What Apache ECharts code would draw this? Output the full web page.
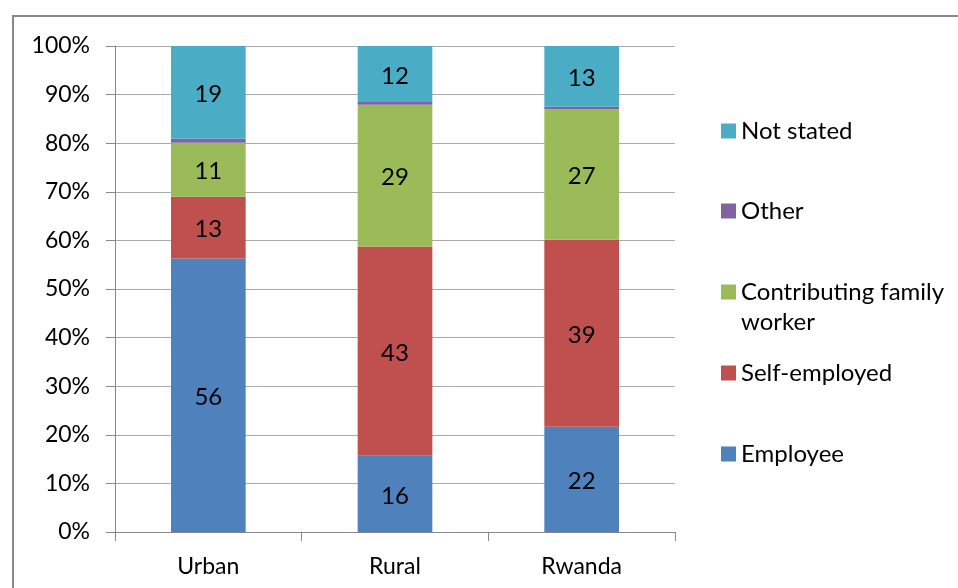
<!DOCTYPE html>
<html>
<head>
<meta charset="utf-8">
<script src="https://cdn.jsdelivr.net/npm/echarts@6/dist/echarts.min.js"></script>
<style>
  html, body { margin: 0; padding: 0; background: #fff; }
  #chart { width: 958px; height: 588px; }
</style>
</head>
<body>
<div id="chart"></div>
<script>
// categories and raw values (percent)
var categories = ['Urban', 'Rural', 'Rwanda']
var employee = [56.3, 15.8, 21.8]
var selfEmployed = [12.7, 43.4, 38.7]
var familyWorker = [11.1, 29.4, 27.0]
var other = [0.8, 0.6, 0.5]
var notStated = [19.1, 11.6, 12.6]
var yTicks = [0, 10, 20, 30, 40, 50, 60, 70, 80, 90, 100]

var seriesNames = ['Employee', 'Self-employed', 'Contributing family worker', 'Other', 'Not stated']
var seriesData = [employee, selfEmployed, familyWorker, other, notStated]
var colors = ['#4F81BD', '#C0504D', '#9BBB59', '#8064A2', '#4BACC6']

// 100% stacked: share of each category total
var totals = categories.map(function(c, i) {
  return seriesData.reduce(function(s, arr) { return s + arr[i] }, 0)
})

var FONT = 'Lato'

var chart = echarts.init(document.getElementById('chart'))

var series = seriesData.map(function(arr, k) {
  return {
    name: seriesNames[k],
    type: 'bar',
    stack: 'total',
    barWidth: '40%',
    itemStyle: { color: colors[k] },
    label: {
      show: seriesNames[k] !== 'Other',
      position: 'inside',
      offset: [0, 2],
      color: '#000',
      fontFamily: FONT,
      fontSize: 24,
      formatter: function(p) { return Math.round(arr[p.dataIndex]) }
    },
    data: arr.map(function(v, i) { return v / totals[i] * 100 })
  }
})

// legend entries, top to bottom, each on its own row
var legendRows = [
  { name: 'Not stated', top: 111 },
  { name: 'Other', top: 191 },
  { name: 'Contributing family worker', top: 242 },
  { name: 'Self-employed', top: 353 },
  { name: 'Employee', top: 434 }
]

var legends = legendRows.map(function(r) {
  return {
    orient: 'vertical',
    left: 716,
    top: r.top,
    itemWidth: 15,
    itemHeight: 15,
    icon: 'rect',
    selectedMode: false,
    data: [r.name],
    formatter: function(n) {
      // blank first line keeps the icon level with "Contributing family"
      return n === 'Contributing family worker' ? ' \nContributing family\nworker' : n
    },
    textStyle: {
      fontFamily: FONT,
      fontSize: 24,
      lineHeight: 30,
      color: '#000'
    }
  }
})

chart.setOption({
  backgroundColor: '#fff',
  animation: false,
  color: colors,
  graphic: [{
    type: 'rect',
    shape: { x: 13, y: 16, width: 1000, height: 1000 },
    style: { fill: 'none', stroke: '#888', lineWidth: 2 },
    silent: true
  }],
  legend: legends,
  grid: {
    left: 115,
    top: 46,
    width: 560,
    bottom: 56
  },
  xAxis: {
    type: 'category',
    data: categories,
    axisLine: { lineStyle: { color: '#888', width: 1 } },
    axisTick: { show: true, length: 9, lineStyle: { color: '#888' } },
    axisLabel: {
      color: '#000',
      fontFamily: FONT,
      fontSize: 23,
      margin: 23
    }
  },
  yAxis: {
    type: 'value',
    min: yTicks[0],
    max: yTicks[yTicks.length - 1],
    interval: yTicks[1] - yTicks[0],
    axisLine: { show: true, lineStyle: { color: '#888', width: 1 } },
    axisTick: { show: true, length: 9, lineStyle: { color: '#888' } },
    splitLine: { lineStyle: { color: '#aaa', width: 1 } },
    axisLabel: {
      color: '#000',
      fontFamily: FONT,
      fontSize: 23,
      margin: 25,
      formatter: '{value}%'
    }
  },
  series: series
})
</script>
</body>
</html>
